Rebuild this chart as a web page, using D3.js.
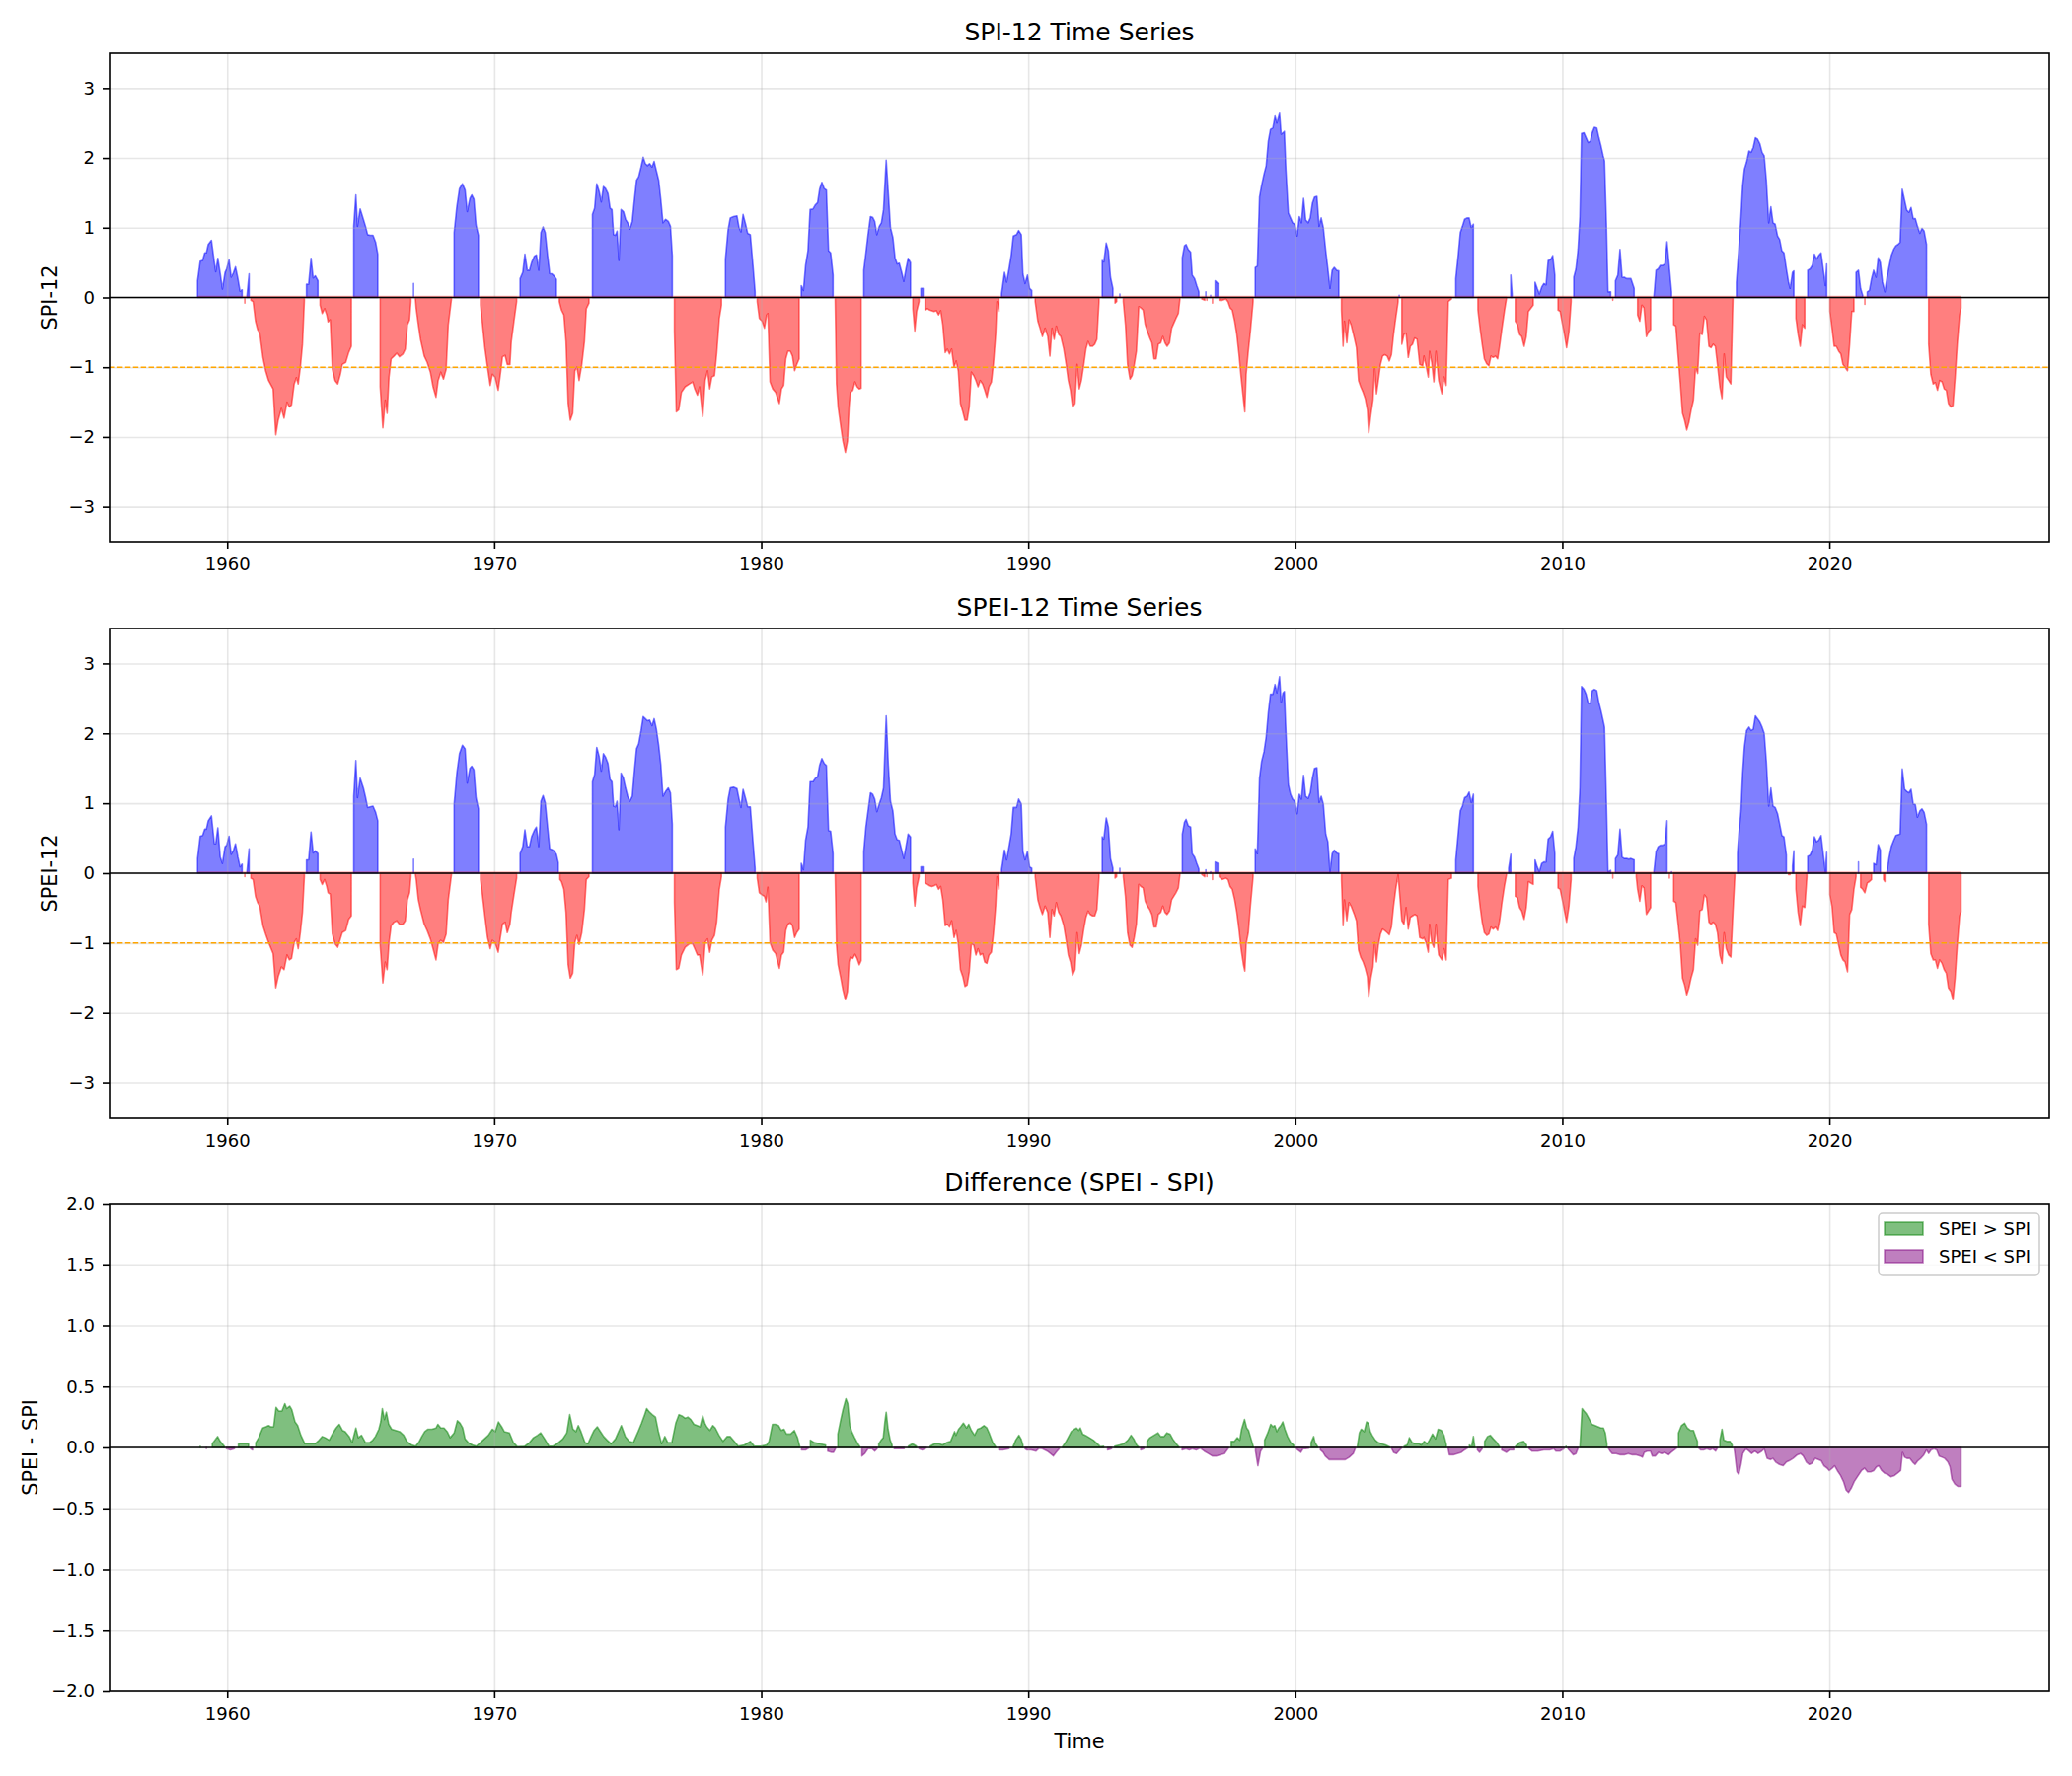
<!DOCTYPE html>
<html>
<head>
<meta charset="utf-8">
<script src="https://cdn.jsdelivr.net/npm/d3@7"></script>
<style>
  body { margin: 0; background: #fff; }
  svg { font-family: "DejaVu Sans", sans-serif; }
</style>
</head>
<body>
<svg id="chart" width="2100" height="1800"></svg>
<script>
// --- DATA (decimal year, index value) ---
const spiData = [
  [1958.89,0.24],[1958.99,0.52],[1959.08,0.53],[1959.16,0.64],[1959.22,0.64],[1959.29,0.76],[1959.41,0.82],[1959.52,0.50],
  [1959.57,0.37],[1959.65,0.56],[1959.74,0.34],[1959.82,0.12],[1959.92,0.36],[1959.98,0.41],[1960.07,0.54],[1960.15,0.29],
  [1960.23,0.35],[1960.31,0.44],[1960.40,0.27],[1960.48,0.09],[1960.56,0.11],[1960.66,-0.08],[1960.74,0.02],[1960.82,0.34],
  [1960.89,-0.04],[1960.97,-0.06],[1961.06,-0.34],[1961.14,-0.46],[1961.22,-0.51],[1961.34,-0.86],[1961.44,-1.05],[1961.55,-1.19],
  [1961.72,-1.31],[1961.82,-1.97],[1961.91,-1.76],[1962.03,-1.59],[1962.13,-1.73],[1962.24,-1.50],[1962.33,-1.57],[1962.41,-1.54],
  [1962.51,-1.24],[1962.59,-1.15],[1962.66,-1.24],[1962.74,-1.00],[1962.82,-0.67],[1962.89,-0.05],[1962.97,0.19],[1963.05,0.19],
  [1963.14,0.56],[1963.22,0.28],[1963.30,0.31],[1963.40,0.24],[1963.48,-0.11],[1963.56,-0.23],[1963.65,-0.16],[1963.73,-0.25],
  [1963.78,-0.35],[1963.86,-0.32],[1963.94,-1.03],[1964.04,-1.19],[1964.14,-1.24],[1964.24,-1.10],[1964.31,-0.96],[1964.44,-0.93],
  [1964.55,-0.79],[1964.65,-0.70],[1964.74,1.02],[1964.82,1.47],[1964.88,1.02],[1964.98,1.27],[1965.10,1.12],[1965.18,1.02],
  [1965.26,0.90],[1965.35,0.89],[1965.46,0.89],[1965.56,0.79],[1965.64,0.62],[1965.73,-1.28],[1965.83,-1.87],[1965.92,-1.47],
  [1965.99,-1.66],[1966.06,-1.14],[1966.14,-0.88],[1966.25,-0.84],[1966.35,-0.80],[1966.45,-0.85],[1966.58,-0.81],[1966.67,-0.74],
  [1966.75,-0.39],[1966.83,-0.32],[1966.88,-0.06],[1966.98,0.20],[1967.05,-0.02],[1967.08,-0.16],[1967.16,-0.39],[1967.24,-0.60],
  [1967.38,-0.84],[1967.49,-0.93],[1967.61,-1.07],[1967.71,-1.28],[1967.82,-1.43],[1967.90,-1.19],[1968.00,-1.07],[1968.10,-1.17],
  [1968.20,-1.03],[1968.28,-0.39],[1968.40,-0.02],[1968.50,0.93],[1968.60,1.30],[1968.70,1.56],[1968.81,1.63],[1968.91,1.54],
  [1968.99,1.23],[1969.09,1.42],[1969.16,1.47],[1969.24,1.41],[1969.32,1.04],[1969.41,0.89],[1969.49,-0.11],[1969.55,-0.34],
  [1969.65,-0.72],[1969.75,-1.00],[1969.85,-1.26],[1969.93,-1.10],[1970.03,-1.14],[1970.15,-1.33],[1970.23,-1.10],[1970.31,-0.85],
  [1970.41,-0.83],[1970.49,-0.96],[1970.59,-0.96],[1970.64,-0.63],[1970.74,-0.34],[1970.84,-0.06],[1970.97,0.27],[1971.07,0.36],
  [1971.15,0.62],[1971.24,0.39],[1971.32,0.39],[1971.40,0.50],[1971.50,0.59],[1971.58,0.61],[1971.67,0.39],[1971.75,0.93],
  [1971.83,1.01],[1971.91,0.93],[1972.00,0.60],[1972.08,0.34],[1972.16,0.34],[1972.24,0.31],[1972.33,0.26],[1972.44,-0.06],
  [1972.52,-0.18],[1972.61,-0.25],[1972.69,-0.63],[1972.77,-1.52],[1972.85,-1.76],[1972.94,-1.66],[1973.02,-1.05],[1973.10,-1.00],
  [1973.18,-1.19],[1973.28,-0.96],[1973.38,-0.63],[1973.45,-0.16],[1973.55,-0.08],[1973.68,1.19],[1973.76,1.28],[1973.84,1.63],
  [1973.93,1.52],[1974.01,1.37],[1974.09,1.59],[1974.17,1.56],[1974.26,1.49],[1974.34,1.28],[1974.41,1.26],[1974.47,0.90],
  [1974.54,0.89],[1974.60,0.95],[1974.67,0.53],[1974.75,1.26],[1974.84,1.23],[1974.92,1.12],[1975.00,1.07],[1975.08,0.98],
  [1975.17,1.09],[1975.25,1.40],[1975.33,1.68],[1975.41,1.73],[1975.50,1.87],[1975.58,2.01],[1975.66,1.92],[1975.74,1.89],
  [1975.82,1.92],[1975.91,1.87],[1975.99,1.95],[1976.07,1.82],[1976.16,1.68],[1976.24,1.40],[1976.32,1.07],[1976.42,1.12],
  [1976.52,1.09],[1976.60,1.02],[1976.67,0.60],[1976.75,-0.48],[1976.82,-1.64],[1976.91,-1.61],[1977.01,-1.36],[1977.15,-1.28],
  [1977.31,-1.24],[1977.43,-1.21],[1977.51,-1.31],[1977.61,-1.40],[1977.69,-1.28],[1977.81,-1.71],[1977.90,-1.19],[1977.99,-1.05],
  [1978.07,-1.31],[1978.15,-1.14],[1978.25,-1.12],[1978.33,-0.81],[1978.43,-0.30],[1978.51,-0.11],[1978.66,0.55],[1978.76,0.97],
  [1978.84,1.14],[1978.96,1.16],[1979.09,1.17],[1979.17,1.00],[1979.24,0.94],[1979.32,1.19],[1979.42,1.04],[1979.49,0.92],
  [1979.59,0.90],[1979.69,0.46],[1979.77,0.08],[1979.85,-0.06],[1979.93,-0.30],[1980.03,-0.34],[1980.12,-0.44],[1980.20,-0.25],
  [1980.25,-0.23],[1980.33,-1.21],[1980.43,-1.31],[1980.54,-1.36],[1980.68,-1.52],[1980.76,-1.31],[1980.84,-1.26],[1980.92,-0.88],
  [1981.00,-0.77],[1981.09,-0.77],[1981.17,-0.84],[1981.25,-1.05],[1981.33,-0.96],[1981.42,-0.88],[1981.50,0.17],[1981.58,0.10],
  [1981.66,0.46],[1981.75,0.67],[1981.83,1.26],[1981.94,1.27],[1982.03,1.33],[1982.11,1.36],[1982.19,1.56],[1982.27,1.65],
  [1982.36,1.56],[1982.44,1.54],[1982.52,0.67],[1982.60,0.64],[1982.69,0.32],[1982.77,-0.01],[1982.82,-1.24],[1982.88,-1.57],
  [1982.98,-1.85],[1983.06,-2.06],[1983.15,-2.22],[1983.23,-2.06],[1983.29,-1.57],[1983.34,-1.36],[1983.43,-1.33],[1983.51,-1.21],
  [1983.59,-1.28],[1983.67,-1.31],[1983.74,-1.30],[1983.84,0.39],[1983.92,0.64],[1984.00,0.90],[1984.09,1.16],[1984.17,1.15],
  [1984.25,1.09],[1984.33,0.90],[1984.42,1.02],[1984.50,1.07],[1984.58,1.26],[1984.68,1.97],[1984.76,1.49],[1984.84,1.00],
  [1984.93,0.86],[1985.01,0.57],[1985.09,0.48],[1985.17,0.49],[1985.26,0.36],[1985.34,0.23],[1985.42,0.41],[1985.50,0.56],
  [1985.59,0.50],[1985.68,-0.16],[1985.75,-0.48],[1985.82,-0.20],[1985.91,-0.06],[1985.98,0.13],[1986.06,0.13],[1986.14,-0.18],
  [1986.23,-0.16],[1986.31,-0.18],[1986.39,-0.19],[1986.47,-0.20],[1986.56,-0.19],[1986.64,-0.25],[1986.72,-0.19],[1986.80,-0.39],
  [1986.89,-0.79],[1986.97,-0.74],[1987.05,-0.81],[1987.13,-0.74],[1987.22,-1.00],[1987.30,-0.91],[1987.38,-1.05],[1987.46,-1.52],
  [1987.55,-1.64],[1987.63,-1.76],[1987.71,-1.76],[1987.79,-1.57],[1987.87,-1.07],[1987.96,-1.12],[1988.04,-1.19],[1988.12,-1.28],
  [1988.20,-1.19],[1988.29,-1.24],[1988.37,-1.33],[1988.45,-1.43],[1988.53,-1.28],[1988.62,-1.21],[1988.70,-0.93],[1988.78,-0.53],
  [1988.83,-0.06],[1988.90,-0.20],[1989.00,0.05],[1989.11,0.36],[1989.19,0.22],[1989.28,0.41],[1989.36,0.60],[1989.44,0.88],
  [1989.56,0.90],[1989.64,0.96],[1989.74,0.90],[1989.80,0.34],[1989.88,0.20],[1989.97,0.32],[1990.05,0.13],[1990.13,0.10],
  [1990.26,-0.06],[1990.36,-0.34],[1990.44,-0.44],[1990.53,-0.56],[1990.63,-0.44],[1990.73,-0.56],[1990.81,-0.84],[1990.89,-0.44],
  [1990.97,-0.60],[1991.05,-0.41],[1991.14,-0.53],[1991.22,-0.56],[1991.33,-0.74],[1991.42,-0.96],[1991.50,-1.19],[1991.58,-1.33],
  [1991.66,-1.57],[1991.75,-1.52],[1991.83,-0.96],[1991.91,-1.31],[1991.99,-1.19],[1992.08,-0.96],[1992.16,-0.74],[1992.24,-0.63],
  [1992.32,-0.70],[1992.41,-0.70],[1992.49,-0.67],[1992.57,-0.60],[1992.65,-0.06],[1992.77,0.53],[1992.83,0.51],[1992.92,0.78],
  [1993.00,0.67],[1993.08,0.29],[1993.17,0.13],[1993.25,-0.08],[1993.31,-0.06],[1993.43,0.05],[1993.56,-0.06],[1993.64,-0.39],
  [1993.72,-0.96],[1993.81,-1.17],[1993.89,-1.12],[1993.97,-0.96],[1994.05,-0.77],[1994.14,-0.13],[1994.22,-0.15],[1994.30,-0.18],
  [1994.38,-0.39],[1994.46,-0.48],[1994.55,-0.58],[1994.63,-0.65],[1994.71,-0.88],[1994.79,-0.88],[1994.87,-0.67],[1994.96,-0.65],
  [1995.04,-0.56],[1995.12,-0.65],[1995.20,-0.70],[1995.29,-0.65],[1995.37,-0.44],[1995.45,-0.37],[1995.53,-0.30],[1995.62,-0.23],
  [1995.68,-0.02],[1995.77,0.57],[1995.85,0.74],[1995.91,0.76],[1995.99,0.69],[1996.08,0.65],[1996.14,0.32],[1996.23,0.27],
  [1996.31,0.17],[1996.39,0.08],[1996.50,-0.02],[1996.61,-0.04],[1996.65,0.08],[1996.69,-0.04],[1996.83,0.03],[1996.90,-0.08],
  [1997.00,0.24],[1997.10,0.20],[1997.15,-0.04],[1997.27,-0.04],[1997.40,-0.02],[1997.48,-0.06],[1997.56,-0.15],[1997.64,-0.18],
  [1997.73,-0.34],[1997.81,-0.53],[1997.89,-0.81],[1997.97,-1.14],[1998.06,-1.47],[1998.11,-1.64],[1998.16,-1.10],[1998.24,-0.77],
  [1998.32,-0.48],[1998.42,-0.06],[1998.50,0.43],[1998.58,0.45],[1998.66,1.44],[1998.74,1.61],[1998.83,1.77],[1998.91,1.89],
  [1998.99,2.24],[1999.07,2.41],[1999.16,2.43],[1999.24,2.60],[1999.31,2.50],[1999.41,2.64],[1999.47,2.34],[1999.54,2.36],
  [1999.59,2.38],[1999.65,1.82],[1999.74,1.21],[1999.82,1.14],[1999.90,1.07],[1999.98,1.05],[2000.07,0.88],[2000.15,1.16],
  [2000.23,1.07],[2000.31,1.42],[2000.39,1.11],[2000.48,1.07],[2000.56,1.14],[2000.64,1.35],[2000.72,1.44],[2000.81,1.45],
  [2000.89,1.02],[2000.97,1.14],[2001.05,1.00],[2001.14,0.67],[2001.22,0.41],[2001.30,0.13],[2001.38,0.39],[2001.46,0.43],
  [2001.55,0.39],[2001.63,0.38],[2001.73,-0.18],[2001.79,-0.70],[2001.84,-0.34],[2001.93,-0.65],[2002.01,-0.32],[2002.09,-0.39],
  [2002.21,-0.58],[2002.29,-0.72],[2002.37,-1.19],[2002.45,-1.28],[2002.54,-1.36],[2002.62,-1.45],[2002.70,-1.61],[2002.75,-1.94],
  [2002.83,-1.68],[2002.91,-1.47],[2002.97,-1.00],[2003.04,-1.38],[2003.11,-1.19],[2003.19,-0.96],[2003.27,-0.84],[2003.35,-0.82],
  [2003.44,-0.84],[2003.52,-0.91],[2003.60,-0.82],[2003.68,-0.53],[2003.76,-0.30],[2003.85,-0.06],[2003.89,0.03],[2003.99,-0.67],
  [2004.07,-0.53],[2004.15,-0.51],[2004.23,-0.86],[2004.31,-0.70],[2004.39,-0.67],[2004.47,-0.58],[2004.56,-0.60],[2004.66,-0.96],
  [2004.77,-0.98],[2004.82,-0.84],[2004.91,-1.00],[2004.98,-1.14],[2005.03,-0.77],[2005.11,-0.93],[2005.19,-1.21],[2005.27,-0.77],
  [2005.32,-0.98],[2005.37,-1.19],[2005.49,-1.38],[2005.57,-1.14],[2005.65,-1.26],[2005.73,-0.06],[2005.85,-0.02],[2006.01,0.27],
  [2006.10,0.60],[2006.18,0.93],[2006.26,1.02],[2006.34,1.12],[2006.43,1.14],[2006.51,1.14],[2006.59,1.00],[2006.67,1.05],
  [2006.84,-0.18],[2006.92,-0.44],[2007.00,-0.67],[2007.08,-0.88],[2007.17,-0.95],[2007.25,-0.98],[2007.33,-0.84],[2007.41,-0.86],
  [2007.50,-0.84],[2007.58,-0.88],[2007.66,-0.67],[2007.74,-0.44],[2007.83,-0.20],[2007.91,-0.01],[2008.07,0.32],[2008.12,0.05],
  [2008.24,-0.34],[2008.32,-0.39],[2008.40,-0.53],[2008.48,-0.56],[2008.57,-0.70],[2008.65,-0.56],[2008.73,-0.20],[2008.91,-0.11],
  [2008.98,0.22],[2009.06,0.13],[2009.14,0.05],[2009.23,0.15],[2009.31,0.20],[2009.39,0.18],[2009.47,0.53],[2009.56,0.54],
  [2009.64,0.60],[2009.72,0.32],[2009.84,-0.18],[2009.92,-0.20],[2010.00,-0.37],[2010.08,-0.53],[2010.16,-0.72],[2010.25,-0.49],
  [2010.33,-0.06],[2010.43,0.29],[2010.51,0.41],[2010.59,0.69],[2010.66,1.16],[2010.72,2.35],[2010.81,2.36],[2010.89,2.29],
  [2010.97,2.22],[2011.05,2.24],[2011.12,2.36],[2011.20,2.44],[2011.29,2.43],[2011.37,2.29],[2011.45,2.17],[2011.53,2.03],
  [2011.58,1.96],[2011.65,1.07],[2011.71,0.08],[2011.81,0.08],[2011.89,-0.04],[2011.99,0.24],[2012.08,0.32],[2012.16,0.69],
  [2012.24,0.29],[2012.32,0.29],[2012.41,0.27],[2012.49,0.27],[2012.57,0.27],[2012.69,0.13],[2012.82,-0.25],[2012.90,-0.34],
  [2012.98,-0.11],[2013.06,-0.15],[2013.15,-0.56],[2013.23,-0.49],[2013.31,-0.46],[2013.43,0.01],[2013.51,0.39],[2013.59,0.41],
  [2013.67,0.46],[2013.76,0.46],[2013.84,0.48],[2013.92,0.80],[2014.09,0.08],[2014.17,-0.39],[2014.25,-0.41],[2014.33,-0.81],
  [2014.42,-1.24],[2014.50,-1.66],[2014.58,-1.76],[2014.66,-1.90],[2014.74,-1.79],[2014.82,-1.62],[2014.91,-1.47],[2014.99,-1.00],
  [2015.07,-1.09],[2015.15,-0.51],[2015.24,-0.53],[2015.32,-0.27],[2015.40,-0.32],[2015.49,-0.70],[2015.57,-0.72],[2015.65,-0.67],
  [2015.73,-0.70],[2015.81,-0.96],[2015.90,-1.28],[2015.98,-1.45],[2016.06,-0.81],[2016.14,-1.14],[2016.23,-1.19],[2016.31,-1.24],
  [2016.39,-0.02],[2016.52,0.22],[2016.61,0.69],[2016.69,1.16],[2016.75,1.59],[2016.82,1.84],[2016.90,1.94],[2016.99,2.10],
  [2017.07,2.08],[2017.15,2.15],[2017.23,2.29],[2017.31,2.27],[2017.40,2.20],[2017.48,2.08],[2017.56,2.03],[2017.64,1.68],
  [2017.73,1.07],[2017.81,1.30],[2017.89,1.07],[2017.97,1.05],[2018.06,0.88],[2018.14,0.83],[2018.22,0.67],[2018.30,0.64],
  [2018.39,0.41],[2018.47,0.22],[2018.53,0.13],[2018.62,0.36],[2018.67,0.38],[2018.75,-0.30],[2018.83,-0.53],[2018.91,-0.70],
  [2018.99,-0.39],[2019.08,-0.44],[2019.19,0.39],[2019.28,0.41],[2019.36,0.46],[2019.44,0.62],[2019.52,0.55],[2019.60,0.60],
  [2019.69,0.64],[2019.77,0.41],[2019.85,0.17],[2019.90,0.48],[2020.02,-0.20],[2020.10,-0.44],[2020.18,-0.70],[2020.26,-0.70],
  [2020.35,-0.77],[2020.43,-0.81],[2020.51,-0.96],[2020.59,-1.00],[2020.68,-1.05],[2020.76,-0.67],[2020.84,-0.20],[2020.92,-0.20],
  [2021.00,0.36],[2021.09,0.39],[2021.17,0.13],[2021.25,0.03],[2021.33,-0.10],[2021.42,0.08],[2021.50,0.10],[2021.58,0.27],
  [2021.66,0.39],[2021.75,0.29],[2021.83,0.57],[2021.91,0.50],[2021.99,0.22],[2022.08,0.08],[2022.16,0.29],[2022.24,0.45],
  [2022.32,0.60],[2022.41,0.69],[2022.49,0.74],[2022.57,0.76],[2022.65,0.79],[2022.73,1.55],[2022.82,1.39],[2022.90,1.25],
  [2022.98,1.22],[2023.06,1.29],[2023.14,1.13],[2023.22,1.13],[2023.30,1.02],[2023.39,0.92],[2023.47,0.99],[2023.55,0.95],
  [2023.64,0.76],[2023.72,-0.67],[2023.80,-1.10],[2023.89,-1.24],[2023.97,-1.22],[2024.05,-1.33],[2024.13,-1.19],[2024.22,-1.21],
  [2024.30,-1.31],[2024.38,-1.33],[2024.46,-1.52],[2024.55,-1.57],[2024.63,-1.55],[2024.71,-1.15],[2024.79,-0.67],[2024.88,-0.25],
  [2024.93,-0.15]
];

const speiData = [
  [1958.89,0.21],[1958.99,0.53],[1959.08,0.54],[1959.16,0.63],[1959.22,0.63],[1959.29,0.75],[1959.41,0.82],[1959.52,0.42],
  [1959.57,0.42],[1959.65,0.65],[1959.74,0.23],[1959.82,0.14],[1959.92,0.38],[1959.98,0.40],[1960.07,0.53],[1960.15,0.27],
  [1960.23,0.32],[1960.31,0.42],[1960.40,0.23],[1960.48,0.09],[1960.56,0.13],[1960.66,-0.05],[1960.74,0.02],[1960.82,0.35],
  [1960.89,-0.07],[1960.97,-0.09],[1961.06,-0.33],[1961.14,-0.42],[1961.22,-0.47],[1961.34,-0.75],[1961.44,-0.87],[1961.55,-0.99],
  [1961.72,-1.15],[1961.82,-1.64],[1961.91,-1.48],[1962.03,-1.34],[1962.13,-1.38],[1962.24,-1.17],[1962.33,-1.24],[1962.41,-1.22],
  [1962.51,-0.99],[1962.59,-0.94],[1962.66,-1.08],[1962.74,-0.85],[1962.82,-0.56],[1962.89,-0.05],[1962.97,0.19],[1963.05,0.19],
  [1963.14,0.59],[1963.22,0.29],[1963.30,0.32],[1963.40,0.28],[1963.48,-0.09],[1963.56,-0.16],[1963.65,-0.09],[1963.73,-0.19],
  [1963.78,-0.28],[1963.86,-0.30],[1963.94,-0.87],[1964.04,-1.01],[1964.14,-1.06],[1964.24,-0.94],[1964.31,-0.85],[1964.44,-0.82],
  [1964.55,-0.66],[1964.65,-0.61],[1964.74,1.10],[1964.82,1.61],[1964.88,1.08],[1964.98,1.36],[1965.10,1.22],[1965.18,1.09],
  [1965.26,0.94],[1965.35,0.95],[1965.46,0.96],[1965.56,0.87],[1965.64,0.75],[1965.73,-1.03],[1965.83,-1.57],[1965.92,-1.27],
  [1965.99,-1.38],[1966.06,-0.99],[1966.14,-0.75],[1966.25,-0.70],[1966.35,-0.68],[1966.45,-0.73],[1966.58,-0.73],[1966.67,-0.68],
  [1966.75,-0.38],[1966.83,-0.28],[1966.88,-0.05],[1966.98,0.20],[1967.05,-0.02],[1967.08,-0.09],[1967.16,-0.38],[1967.24,-0.52],
  [1967.38,-0.73],[1967.49,-0.82],[1967.61,-0.94],[1967.71,-1.08],[1967.82,-1.24],[1967.90,-1.01],[1968.00,-0.96],[1968.10,-0.99],
  [1968.20,-0.87],[1968.28,-0.38],[1968.40,-0.02],[1968.50,0.99],[1968.60,1.43],[1968.70,1.71],[1968.81,1.83],[1968.91,1.78],
  [1968.99,1.29],[1969.09,1.50],[1969.16,1.53],[1969.24,1.48],[1969.32,1.08],[1969.41,0.92],[1969.49,-0.09],[1969.55,-0.28],
  [1969.65,-0.61],[1969.75,-0.92],[1969.85,-1.08],[1969.93,-0.96],[1970.03,-0.99],[1970.15,-1.13],[1970.23,-0.92],[1970.31,-0.73],
  [1970.41,-0.70],[1970.49,-0.85],[1970.59,-0.73],[1970.64,-0.56],[1970.74,-0.31],[1970.84,-0.07],[1970.97,0.28],[1971.07,0.38],
  [1971.15,0.62],[1971.24,0.38],[1971.32,0.38],[1971.40,0.52],[1971.50,0.61],[1971.58,0.66],[1971.67,0.38],[1971.75,1.03],
  [1971.83,1.11],[1971.91,1.01],[1972.00,0.66],[1972.08,0.35],[1972.16,0.34],[1972.24,0.32],[1972.33,0.27],[1972.40,0.15],
  [1972.46,-0.09],[1972.52,-0.12],[1972.61,-0.23],[1972.69,-0.56],[1972.77,-1.31],[1972.85,-1.50],[1972.94,-1.43],[1973.02,-0.99],
  [1973.10,-0.89],[1973.18,-1.02],[1973.28,-0.85],[1973.38,-0.52],[1973.45,-0.09],[1973.55,-0.05],[1973.68,1.31],[1973.76,1.41],
  [1973.84,1.80],[1973.93,1.67],[1974.01,1.46],[1974.09,1.71],[1974.17,1.66],[1974.26,1.57],[1974.34,1.34],[1974.41,1.31],
  [1974.47,0.96],[1974.54,0.95],[1974.60,1.03],[1974.67,0.62],[1974.75,1.43],[1974.84,1.36],[1974.92,1.22],[1975.00,1.10],
  [1975.08,1.03],[1975.17,1.10],[1975.25,1.46],[1975.33,1.78],[1975.41,1.85],[1975.50,2.04],[1975.58,2.24],[1975.66,2.21],
  [1975.74,2.18],[1975.82,2.19],[1975.91,2.11],[1975.99,2.21],[1976.07,2.07],[1976.16,1.83],[1976.24,1.55],[1976.32,1.10],
  [1976.42,1.17],[1976.52,1.22],[1976.60,1.15],[1976.67,0.70],[1976.75,-0.42],[1976.82,-1.38],[1976.91,-1.36],[1977.01,-1.17],
  [1977.15,-1.06],[1977.31,-1.01],[1977.43,-1.01],[1977.51,-1.08],[1977.61,-1.17],[1977.69,-1.17],[1977.81,-1.46],[1977.90,-0.99],
  [1977.99,-0.94],[1978.07,-1.13],[1978.15,-0.96],[1978.25,-0.89],[1978.33,-0.70],[1978.43,-0.23],[1978.51,-0.05],[1978.66,0.66],
  [1978.76,1.06],[1978.84,1.22],[1978.96,1.23],[1979.09,1.21],[1979.17,1.06],[1979.24,0.94],[1979.32,1.20],[1979.42,1.06],
  [1979.49,0.95],[1979.59,0.95],[1979.69,0.45],[1979.77,0.07],[1979.85,-0.07],[1979.93,-0.28],[1980.03,-0.31],[1980.12,-0.33],
  [1980.18,-0.41],[1980.25,-0.20],[1980.33,-0.99],[1980.43,-1.10],[1980.54,-1.15],[1980.68,-1.36],[1980.76,-1.17],[1980.84,-1.13],
  [1980.92,-0.82],[1981.00,-0.73],[1981.09,-0.71],[1981.17,-0.75],[1981.25,-0.92],[1981.33,-0.85],[1981.42,-0.80],[1981.50,0.14],
  [1981.58,0.05],[1981.66,0.47],[1981.75,0.66],[1981.83,1.31],[1981.94,1.31],[1982.03,1.36],[1982.11,1.38],[1982.19,1.55],
  [1982.27,1.64],[1982.36,1.57],[1982.44,1.54],[1982.52,0.61],[1982.60,0.60],[1982.69,0.28],[1982.77,-0.02],[1982.82,-1.03],
  [1982.88,-1.31],[1982.98,-1.50],[1983.06,-1.67],[1983.15,-1.81],[1983.23,-1.69],[1983.29,-1.27],[1983.34,-1.20],[1983.43,-1.22],
  [1983.51,-1.16],[1983.59,-1.22],[1983.67,-1.31],[1983.74,-1.25],[1983.84,0.31],[1983.92,0.66],[1984.00,0.89],[1984.09,1.15],
  [1984.17,1.13],[1984.25,1.06],[1984.33,0.88],[1984.42,0.99],[1984.50,1.08],[1984.58,1.22],[1984.68,2.25],[1984.76,1.55],
  [1984.84,1.03],[1984.93,0.89],[1985.01,0.56],[1985.09,0.48],[1985.17,0.47],[1985.26,0.33],[1985.34,0.21],[1985.42,0.38],
  [1985.50,0.56],[1985.59,0.52],[1985.68,-0.14],[1985.75,-0.47],[1985.82,-0.21],[1985.91,-0.05],[1985.98,0.09],[1986.06,0.09],
  [1986.14,-0.14],[1986.23,-0.16],[1986.31,-0.18],[1986.39,-0.19],[1986.47,-0.18],[1986.56,-0.16],[1986.64,-0.23],[1986.72,-0.19],
  [1986.80,-0.38],[1986.89,-0.75],[1986.97,-0.73],[1987.05,-0.77],[1987.13,-0.68],[1987.22,-0.92],[1987.30,-0.82],[1987.38,-1.01],
  [1987.46,-1.38],[1987.55,-1.48],[1987.63,-1.62],[1987.71,-1.60],[1987.79,-1.41],[1987.87,-1.01],[1987.96,-1.03],[1988.04,-1.17],
  [1988.12,-1.08],[1988.20,-1.17],[1988.29,-1.15],[1988.37,-1.27],[1988.45,-1.29],[1988.53,-1.17],[1988.62,-1.13],[1988.70,-0.85],
  [1988.78,-0.47],[1988.83,-0.05],[1988.90,-0.23],[1989.00,0.05],[1989.11,0.33],[1989.19,0.19],[1989.28,0.38],[1989.36,0.56],
  [1989.44,0.94],[1989.56,0.94],[1989.64,1.06],[1989.74,0.99],[1989.80,0.31],[1989.88,0.19],[1989.97,0.31],[1990.05,0.09],
  [1990.13,0.07],[1990.26,-0.05],[1990.36,-0.38],[1990.44,-0.49],[1990.53,-0.59],[1990.63,-0.47],[1990.73,-0.56],[1990.81,-0.92],
  [1990.89,-0.52],[1990.97,-0.61],[1991.05,-0.42],[1991.14,-0.56],[1991.22,-0.61],[1991.33,-0.75],[1991.42,-0.96],[1991.50,-1.17],
  [1991.58,-1.27],[1991.66,-1.46],[1991.75,-1.38],[1991.83,-0.85],[1991.91,-1.15],[1991.99,-1.03],[1992.08,-0.80],[1992.16,-0.63],
  [1992.24,-0.54],[1992.32,-0.59],[1992.41,-0.61],[1992.49,-0.61],[1992.57,-0.52],[1992.65,-0.05],[1992.77,0.52],[1992.83,0.49],
  [1992.92,0.79],[1993.00,0.66],[1993.08,0.21],[1993.17,0.07],[1993.25,-0.07],[1993.31,-0.05],[1993.43,0.07],[1993.56,-0.05],
  [1993.64,-0.33],[1993.72,-0.85],[1993.81,-1.03],[1993.89,-1.06],[1993.97,-0.92],[1994.05,-0.73],[1994.14,-0.16],[1994.22,-0.19],
  [1994.30,-0.21],[1994.38,-0.40],[1994.46,-0.47],[1994.55,-0.52],[1994.63,-0.59],[1994.71,-0.77],[1994.79,-0.77],[1994.87,-0.59],
  [1994.96,-0.56],[1995.04,-0.47],[1995.12,-0.56],[1995.20,-0.59],[1995.29,-0.54],[1995.37,-0.38],[1995.45,-0.33],[1995.53,-0.28],
  [1995.62,-0.21],[1995.68,-0.02],[1995.77,0.56],[1995.85,0.73],[1995.91,0.77],[1995.99,0.68],[1996.08,0.66],[1996.14,0.28],
  [1996.23,0.23],[1996.31,0.14],[1996.39,0.06],[1996.50,-0.02],[1996.61,-0.05],[1996.65,0.05],[1996.69,-0.05],[1996.83,0.02],
  [1996.90,-0.09],[1997.00,0.16],[1997.10,0.14],[1997.15,-0.05],[1997.27,-0.09],[1997.40,-0.07],[1997.48,-0.09],[1997.56,-0.19],
  [1997.64,-0.23],[1997.73,-0.38],[1997.81,-0.56],[1997.89,-0.80],[1997.97,-1.08],[1998.06,-1.31],[1998.11,-1.40],[1998.16,-1.01],
  [1998.24,-0.85],[1998.32,-0.47],[1998.42,-0.05],[1998.50,0.35],[1998.58,0.28],[1998.66,1.36],[1998.74,1.60],[1998.83,1.74],
  [1998.91,1.95],[1998.99,2.30],[1999.07,2.56],[1999.16,2.56],[1999.24,2.70],[1999.31,2.58],[1999.41,2.81],[1999.47,2.44],
  [1999.54,2.58],[1999.59,2.60],[1999.65,2.02],[1999.74,1.27],[1999.82,1.13],[1999.90,1.06],[1999.98,1.03],[2000.07,0.85],
  [2000.15,1.13],[2000.23,1.06],[2000.31,1.40],[2000.39,1.10],[2000.48,1.07],[2000.56,1.15],[2000.64,1.36],[2000.72,1.50],
  [2000.81,1.51],[2000.89,1.01],[2000.97,1.10],[2001.05,0.99],[2001.14,0.56],[2001.22,0.45],[2001.30,0.02],[2001.38,0.28],
  [2001.46,0.33],[2001.55,0.29],[2001.63,0.28],[2001.73,-0.09],[2001.79,-0.75],[2001.84,-0.38],[2001.93,-0.68],[2002.01,-0.42],
  [2002.09,-0.47],[2002.21,-0.59],[2002.29,-0.68],[2002.37,-1.10],[2002.45,-1.20],[2002.54,-1.27],[2002.62,-1.36],[2002.70,-1.48],
  [2002.75,-1.76],[2002.83,-1.50],[2002.91,-1.34],[2002.97,-0.99],[2003.04,-1.27],[2003.11,-1.03],[2003.19,-0.87],[2003.27,-0.80],
  [2003.35,-0.82],[2003.44,-0.85],[2003.52,-0.88],[2003.60,-0.77],[2003.68,-0.47],[2003.76,-0.23],[2003.85,-0.02],[2003.99,-0.68],
  [2004.07,-0.73],[2004.15,-0.49],[2004.23,-0.80],[2004.31,-0.63],[2004.39,-0.61],[2004.47,-0.59],[2004.56,-0.61],[2004.66,-0.92],
  [2004.77,-0.94],[2004.82,-0.92],[2004.91,-1.01],[2004.98,-1.13],[2005.03,-0.73],[2005.11,-0.99],[2005.19,-1.06],[2005.27,-0.73],
  [2005.32,-0.99],[2005.37,-1.17],[2005.49,-1.24],[2005.57,-1.08],[2005.65,-1.24],[2005.73,-0.09],[2005.85,-0.07],[2006.01,0.19],
  [2006.10,0.56],[2006.18,0.89],[2006.26,0.96],[2006.34,1.08],[2006.43,1.10],[2006.51,1.16],[2006.59,1.01],[2006.67,1.13],
  [2006.84,-0.19],[2006.92,-0.47],[2007.00,-0.70],[2007.08,-0.85],[2007.17,-0.89],[2007.25,-0.87],[2007.33,-0.77],[2007.41,-0.80],
  [2007.50,-0.77],[2007.58,-0.82],[2007.66,-0.66],[2007.74,-0.42],[2007.83,-0.19],[2007.91,-0.02],[2007.99,0.07],[2008.07,0.27],
  [2008.24,-0.33],[2008.32,-0.35],[2008.40,-0.49],[2008.48,-0.54],[2008.57,-0.66],[2008.65,-0.49],[2008.73,-0.12],[2008.91,-0.16],
  [2008.98,0.19],[2009.06,0.09],[2009.14,0.02],[2009.23,0.14],[2009.31,0.16],[2009.39,0.16],[2009.47,0.49],[2009.56,0.52],
  [2009.64,0.60],[2009.72,0.28],[2009.84,-0.21],[2009.92,-0.23],[2010.00,-0.38],[2010.08,-0.54],[2010.16,-0.70],[2010.25,-0.47],
  [2010.33,-0.09],[2010.43,0.21],[2010.51,0.38],[2010.59,0.66],[2010.66,1.22],[2010.72,2.67],[2010.81,2.63],[2010.89,2.56],
  [2010.97,2.43],[2011.05,2.43],[2011.12,2.61],[2011.20,2.63],[2011.29,2.61],[2011.37,2.44],[2011.45,2.32],[2011.53,2.18],
  [2011.58,2.09],[2011.65,1.03],[2011.71,0.02],[2011.81,0.04],[2011.89,-0.07],[2011.99,0.21],[2012.08,0.26],[2012.16,0.63],
  [2012.24,0.23],[2012.32,0.21],[2012.41,0.21],[2012.49,0.20],[2012.57,0.21],[2012.69,0.19],[2012.77,-0.05],[2012.82,-0.23],
  [2012.90,-0.40],[2012.98,-0.18],[2013.06,-0.21],[2013.15,-0.59],[2013.23,-0.54],[2013.31,-0.49],[2013.43,0.02],[2013.51,0.31],
  [2013.59,0.38],[2013.67,0.40],[2013.76,0.40],[2013.84,0.42],[2013.92,0.75],[2014.01,-0.07],[2014.09,0.02],[2014.17,-0.40],
  [2014.25,-0.42],[2014.33,-0.70],[2014.42,-1.03],[2014.50,-1.50],[2014.58,-1.60],[2014.66,-1.74],[2014.74,-1.64],[2014.82,-1.50],
  [2014.91,-1.38],[2014.99,-0.94],[2015.07,-1.03],[2015.15,-0.54],[2015.24,-0.52],[2015.32,-0.31],[2015.40,-0.35],[2015.49,-0.70],
  [2015.57,-0.73],[2015.65,-0.70],[2015.73,-0.73],[2015.81,-0.85],[2015.90,-1.17],[2015.98,-1.29],[2016.06,-0.85],[2016.14,-1.08],
  [2016.23,-1.17],[2016.31,-1.20],[2016.39,-0.56],[2016.46,-0.05],[2016.56,0.28],[2016.61,0.55],[2016.69,0.89],[2016.75,1.41],
  [2016.82,1.81],[2016.90,2.04],[2016.99,2.09],[2017.07,2.04],[2017.15,2.06],[2017.23,2.25],[2017.31,2.21],[2017.40,2.16],
  [2017.48,2.09],[2017.56,2.00],[2017.64,1.60],[2017.73,0.96],[2017.81,1.22],[2017.89,0.96],[2017.97,0.94],[2018.06,0.85],
  [2018.14,0.70],[2018.22,0.54],[2018.30,0.52],[2018.39,0.26],[2018.47,-0.02],[2018.53,-0.02],[2018.62,0.10],[2018.67,0.32],
  [2018.75,-0.23],[2018.83,-0.56],[2018.91,-0.75],[2018.99,-0.47],[2019.08,-0.49],[2019.16,-0.05],[2019.19,0.24],[2019.28,0.26],
  [2019.36,0.33],[2019.44,0.52],[2019.52,0.45],[2019.60,0.47],[2019.69,0.54],[2019.77,0.28],[2019.85,0.02],[2019.90,0.30],
  [2020.02,-0.31],[2020.10,-0.47],[2020.18,-0.85],[2020.26,-0.87],[2020.35,-1.03],[2020.43,-1.17],[2020.51,-1.24],[2020.59,-1.27],
  [2020.68,-1.41],[2020.76,-0.59],[2020.84,-0.52],[2020.92,-0.23],[2021.00,-0.05],[2021.09,0.16],[2021.17,-0.20],[2021.25,-0.23],
  [2021.33,-0.28],[2021.42,-0.14],[2021.50,-0.12],[2021.58,-0.09],[2021.66,0.14],[2021.75,0.12],[2021.83,0.41],[2021.91,0.33],
  [2022.03,-0.09],[2022.08,-0.12],[2022.16,0.02],[2022.24,0.23],[2022.32,0.38],[2022.41,0.47],[2022.49,0.54],[2022.57,0.55],
  [2022.65,0.56],[2022.73,1.49],[2022.82,1.20],[2022.90,1.17],[2022.98,1.15],[2023.06,1.20],[2023.14,0.99],[2023.22,0.98],
  [2023.30,0.80],[2023.39,0.89],[2023.47,0.92],[2023.55,0.87],[2023.64,0.70],[2023.72,-0.73],[2023.80,-1.15],[2023.89,-1.24],
  [2023.97,-1.24],[2024.05,-1.36],[2024.13,-1.24],[2024.22,-1.29],[2024.30,-1.38],[2024.38,-1.43],[2024.46,-1.64],[2024.55,-1.69],
  [2024.63,-1.81],[2024.71,-1.50],[2024.79,-1.03],[2024.88,-0.61],[2024.93,-0.55]
];

const diffData = [
  [1958.99,0.01],[1959.22,-0.01],[1959.44,0.03],[1959.64,0.09],[1959.74,0.05],[1959.89,0.01],[1959.97,-0.01],[1960.12,-0.02],
  [1960.27,-0.01],[1960.42,0.03],[1960.57,0.03],[1960.80,0.03],[1960.88,-0.01],[1960.95,-0.02],[1961.07,0.04],[1961.18,0.08],
  [1961.33,0.16],[1961.45,0.17],[1961.55,0.18],[1961.63,0.17],[1961.74,0.17],[1961.83,0.33],[1961.93,0.30],[1962.05,0.30],
  [1962.16,0.36],[1962.23,0.32],[1962.34,0.34],[1962.42,0.31],[1962.54,0.21],[1962.64,0.18],[1962.76,0.10],[1962.91,0.03],
  [1963.06,0.03],[1963.29,0.03],[1963.44,0.06],[1963.56,0.09],[1963.67,0.08],[1963.82,0.06],[1963.94,0.11],[1964.08,0.16],
  [1964.20,0.19],[1964.32,0.14],[1964.42,0.13],[1964.57,0.09],[1964.68,0.04],[1964.82,0.16],[1964.91,0.08],[1965.03,0.10],
  [1965.18,0.04],[1965.33,0.04],[1965.45,0.06],[1965.55,0.09],[1965.68,0.15],[1965.75,0.21],[1965.81,0.32],[1965.89,0.23],
  [1965.96,0.29],[1966.05,0.19],[1966.16,0.15],[1966.31,0.14],[1966.46,0.13],[1966.61,0.10],[1966.73,0.05],[1966.91,0.02],
  [1967.06,0.01],[1967.17,0.04],[1967.29,0.09],[1967.40,0.13],[1967.52,0.15],[1967.67,0.15],[1967.82,0.16],[1967.89,0.19],
  [1968.00,0.16],[1968.12,0.16],[1968.24,0.13],[1968.35,0.08],[1968.50,0.12],[1968.62,0.22],[1968.72,0.20],[1968.82,0.16],
  [1968.91,0.07],[1969.03,0.04],[1969.18,0.02],[1969.33,0.01],[1969.48,0.04],[1969.63,0.07],[1969.78,0.10],[1969.93,0.15],
  [1970.04,0.13],[1970.16,0.21],[1970.28,0.17],[1970.38,0.13],[1970.57,0.12],[1970.72,0.04],[1970.87,0.005],[1971.14,0.01],
  [1971.32,0.04],[1971.47,0.08],[1971.62,0.10],[1971.74,0.12],[1971.89,0.07],[1972.05,0.01],[1972.20,0.01],[1972.35,0.03],
  [1972.57,0.07],[1972.72,0.12],[1972.83,0.27],[1972.95,0.15],[1973.06,0.13],[1973.15,0.18],[1973.25,0.13],[1973.40,0.04],
  [1973.51,0.03],[1973.63,0.09],[1973.74,0.14],[1973.86,0.17],[1973.98,0.13],[1974.10,0.09],[1974.23,0.06],[1974.38,0.03],
  [1974.54,0.07],[1974.64,0.12],[1974.76,0.18],[1974.91,0.09],[1975.06,0.05],[1975.21,0.04],[1975.37,0.12],[1975.52,0.20],
  [1975.62,0.26],[1975.71,0.32],[1975.82,0.29],[1975.92,0.27],[1976.04,0.25],[1976.15,0.13],[1976.27,0.03],[1976.39,0.09],
  [1976.50,0.04],[1976.65,0.04],[1976.80,0.20],[1976.92,0.27],[1977.03,0.26],[1977.15,0.24],[1977.25,0.25],[1977.36,0.23],
  [1977.48,0.19],[1977.60,0.18],[1977.71,0.17],[1977.81,0.26],[1977.89,0.20],[1977.96,0.17],[1978.08,0.14],[1978.19,0.18],
  [1978.28,0.16],[1978.42,0.10],[1978.57,0.05],[1978.72,0.09],[1978.84,0.09],[1978.99,0.05],[1979.14,0.01],[1979.37,0.02],
  [1979.59,0.05],[1979.74,0.01],[1979.97,0.01],[1980.20,0.02],[1980.29,0.05],[1980.42,0.19],[1980.53,0.19],[1980.65,0.18],
  [1980.75,0.14],[1980.85,0.15],[1980.95,0.11],[1981.10,0.11],[1981.24,0.14],[1981.36,0.08],[1981.44,0.01],[1981.51,-0.02],
  [1981.66,-0.02],[1981.78,-0.005],[1981.84,0.06],[1981.99,0.04],[1982.19,0.03],[1982.41,0.02],[1982.49,-0.03],[1982.64,-0.04],
  [1982.71,-0.04],[1982.79,-0.005],[1982.87,0.11],[1982.97,0.22],[1983.06,0.31],[1983.17,0.40],[1983.24,0.36],[1983.32,0.18],
  [1983.39,0.13],[1983.50,0.08],[1983.62,0.03],[1983.70,0.005],[1983.77,-0.07],[1983.88,-0.05],[1984.00,-0.01],[1984.15,-0.01],
  [1984.25,-0.03],[1984.34,-0.01],[1984.40,0.03],[1984.49,0.06],[1984.57,0.08],[1984.63,0.21],[1984.68,0.29],[1984.75,0.15],
  [1984.83,0.06],[1984.90,0.02],[1984.98,-0.01],[1985.20,-0.01],[1985.35,-0.01],[1985.51,0.01],[1985.66,0.03],[1985.81,0.01],
  [1985.91,-0.01],[1986.03,-0.02],[1986.18,-0.005],[1986.33,0.01],[1986.49,0.03],[1986.67,0.03],[1986.79,0.02],[1986.94,0.04],
  [1987.09,0.05],[1987.24,0.13],[1987.29,0.10],[1987.39,0.15],[1987.47,0.17],[1987.57,0.20],[1987.69,0.16],[1987.77,0.19],
  [1987.87,0.14],[1987.99,0.10],[1988.10,0.15],[1988.22,0.16],[1988.34,0.18],[1988.45,0.16],[1988.55,0.11],[1988.67,0.04],
  [1988.78,0.005],[1988.90,-0.02],[1989.05,-0.02],[1989.28,-0.01],[1989.43,0.005],[1989.53,0.06],[1989.65,0.10],[1989.73,0.07],
  [1989.80,0.02],[1989.88,-0.01],[1989.95,-0.02],[1990.11,-0.02],[1990.29,-0.03],[1990.41,-0.005],[1990.53,-0.01],[1990.71,-0.03],
  [1990.83,-0.05],[1990.94,-0.07],[1991.04,-0.04],[1991.16,-0.01],[1991.28,0.005],[1991.39,0.04],[1991.49,0.08],[1991.61,0.13],
  [1991.73,0.15],[1991.81,0.16],[1991.89,0.14],[1991.95,0.16],[1992.04,0.11],[1992.14,0.10],[1992.29,0.08],[1992.44,0.06],
  [1992.59,0.03],[1992.70,0.005],[1992.82,0.01],[1992.97,-0.02],[1993.12,-0.01],[1993.24,0.01],[1993.42,0.02],[1993.57,0.03],
  [1993.73,0.06],[1993.85,0.10],[1993.95,0.07],[1994.06,0.02],[1994.13,0.005],[1994.21,-0.02],[1994.33,-0.01],[1994.45,0.05],
  [1994.56,0.08],[1994.71,0.10],[1994.86,0.12],[1994.96,0.09],[1995.08,0.09],[1995.19,0.12],[1995.31,0.11],[1995.41,0.07],
  [1995.54,0.03],[1995.64,0.005],[1995.76,-0.02],[1995.91,-0.01],[1996.03,-0.02],[1996.14,-0.01],[1996.29,-0.02],[1996.44,-0.005],
  [1996.59,-0.03],[1996.74,-0.05],[1996.89,-0.07],[1997.04,-0.07],[1997.19,-0.06],[1997.35,-0.05],[1997.50,-0.005],[1997.60,0.05],
  [1997.72,0.05],[1997.83,0.08],[1997.92,0.06],[1997.99,0.15],[1998.10,0.23],[1998.18,0.16],[1998.25,0.14],[1998.33,0.08],
  [1998.43,0.005],[1998.51,-0.03],[1998.60,-0.15],[1998.70,-0.03],[1998.78,-0.005],[1998.85,0.06],[1998.97,0.12],[1999.08,0.19],
  [1999.16,0.17],[1999.23,0.18],[1999.31,0.13],[1999.38,0.16],[1999.46,0.18],[1999.53,0.21],[1999.61,0.15],[1999.71,0.09],
  [1999.83,0.04],[1999.94,0.02],[2000.03,-0.005],[2000.09,-0.02],[2000.21,-0.04],[2000.29,-0.01],[2000.39,-0.01],[2000.51,-0.005],
  [2000.59,0.04],[2000.69,0.09],[2000.74,0.04],[2000.84,0.005],[2000.94,-0.02],[2001.04,-0.04],[2001.12,-0.07],[2001.27,-0.10],
  [2001.42,-0.10],[2001.57,-0.10],[2001.72,-0.10],[2001.87,-0.10],[2002.02,-0.08],[2002.17,-0.05],[2002.25,-0.005],[2002.32,0.005],
  [2002.40,0.12],[2002.47,0.15],[2002.58,0.13],[2002.67,0.21],[2002.74,0.20],[2002.81,0.13],[2002.88,0.10],[2003.00,0.06],
  [2003.11,0.04],[2003.23,0.03],[2003.38,0.02],[2003.53,0.005],[2003.61,-0.01],[2003.68,-0.04],[2003.79,-0.05],[2003.91,-0.02],
  [2003.98,-0.005],[2004.08,0.01],[2004.19,0.02],[2004.27,0.08],[2004.38,0.04],[2004.49,0.03],[2004.64,0.03],[2004.72,0.02],
  [2004.83,0.05],[2004.94,0.03],[2005.02,0.06],[2005.14,0.11],[2005.25,0.07],[2005.35,0.15],[2005.47,0.14],[2005.57,0.10],
  [2005.66,0.02],[2005.72,-0.005],[2005.77,-0.06],[2005.92,-0.06],[2006.07,-0.05],[2006.22,-0.04],[2006.34,-0.02],[2006.45,-0.005],
  [2006.52,0.02],[2006.60,0.005],[2006.67,0.09],[2006.72,0.005],[2006.82,-0.02],[2006.90,-0.04],[2007.00,-0.01],[2007.09,0.05],
  [2007.20,0.09],[2007.30,0.10],[2007.42,0.07],[2007.55,0.04],[2007.65,0.005],[2007.73,-0.02],[2007.91,-0.04],[2008.03,-0.02],
  [2008.18,-0.02],[2008.25,0.01],[2008.40,0.04],[2008.55,0.05],[2008.66,0.02],[2008.75,-0.01],[2008.86,-0.03],[2009.08,-0.03],
  [2009.31,-0.02],[2009.53,-0.02],[2009.68,-0.01],[2009.76,-0.03],[2009.91,-0.03],[2010.06,-0.01],[2010.14,0.01],[2010.21,-0.01],
  [2010.29,-0.03],[2010.41,-0.06],[2010.51,-0.05],[2010.59,-0.005],[2010.66,0.005],[2010.74,0.32],[2010.81,0.30],[2010.89,0.28],
  [2010.99,0.24],[2011.11,0.19],[2011.23,0.18],[2011.34,0.17],[2011.45,0.16],[2011.54,0.16],[2011.61,0.12],[2011.67,0.03],
  [2011.72,-0.005],[2011.79,-0.03],[2011.87,-0.05],[2012.02,-0.05],[2012.17,-0.06],[2012.32,-0.06],[2012.47,-0.05],[2012.62,-0.06],
  [2012.77,-0.06],[2012.92,-0.07],[2013.00,-0.08],[2013.07,-0.04],[2013.18,-0.03],[2013.30,-0.03],[2013.37,-0.07],[2013.48,-0.07],
  [2013.60,-0.04],[2013.72,-0.05],[2013.83,-0.04],[2013.98,-0.06],[2014.08,-0.04],[2014.20,-0.02],[2014.28,-0.005],[2014.35,0.12],
  [2014.46,0.18],[2014.58,0.20],[2014.68,0.16],[2014.80,0.14],[2014.91,0.14],[2014.99,0.09],[2015.06,0.05],[2015.11,-0.005],
  [2015.18,-0.02],[2015.29,-0.02],[2015.41,-0.01],[2015.53,-0.02],[2015.63,-0.01],[2015.74,-0.03],[2015.81,-0.005],[2015.90,0.06],
  [2015.98,0.15],[2016.05,0.06],[2016.16,0.05],[2016.28,0.05],[2016.36,0.02],[2016.43,-0.005],[2016.46,-0.05],[2016.54,-0.20],
  [2016.61,-0.22],[2016.69,-0.14],[2016.76,-0.05],[2016.88,-0.01],[2016.99,-0.03],[2017.09,-0.05],[2017.21,-0.03],[2017.33,-0.05],
  [2017.47,-0.03],[2017.56,-0.01],[2017.67,-0.09],[2017.79,-0.10],[2017.89,-0.09],[2017.99,-0.12],[2018.13,-0.14],[2018.27,-0.15],
  [2018.39,-0.12],[2018.49,-0.11],[2018.64,-0.09],[2018.80,-0.06],[2018.92,-0.05],[2019.02,-0.07],[2019.14,-0.12],[2019.25,-0.14],
  [2019.35,-0.13],[2019.47,-0.09],[2019.59,-0.10],[2019.70,-0.11],[2019.80,-0.15],[2019.92,-0.17],[2020.00,-0.19],[2020.11,-0.17],
  [2020.20,-0.15],[2020.30,-0.19],[2020.42,-0.23],[2020.53,-0.28],[2020.63,-0.35],[2020.72,-0.37],[2020.83,-0.33],[2020.93,-0.28],
  [2021.05,-0.24],[2021.20,-0.19],[2021.32,-0.17],[2021.43,-0.20],[2021.55,-0.20],[2021.66,-0.19],[2021.76,-0.16],[2021.85,-0.15],
  [2021.96,-0.19],[2022.06,-0.21],[2022.18,-0.22],[2022.30,-0.24],[2022.44,-0.23],[2022.56,-0.21],[2022.67,-0.19],[2022.74,-0.04],
  [2022.82,-0.08],[2022.91,-0.09],[2023.01,-0.09],[2023.12,-0.12],[2023.21,-0.14],[2023.31,-0.11],[2023.42,-0.09],[2023.54,-0.06],
  [2023.64,-0.02],[2023.72,-0.05],[2023.81,-0.02],[2023.92,-0.01],[2024.02,-0.02],[2024.11,-0.07],[2024.22,-0.08],[2024.32,-0.09],
  [2024.44,-0.12],[2024.52,-0.16],[2024.59,-0.26],[2024.70,-0.30],[2024.82,-0.32],[2024.93,-0.32]
];

const yearTicks = [1960, 1970, 1980, 1990, 2000, 2010, 2020];
const indexTicks = [-3, -2, -1, 0, 1, 2, 3];
const diffTicks = [-2.0, -1.5, -1.0, -0.5, 0.0, 0.5, 1.0, 1.5, 2.0];
const legendLabels = ['SPEI > SPI', 'SPEI < SPI'];

// --- LAYOUT ---
const plotLeft = 111, plotRight = 2077;
const xDomain = [1955.594, 2028.237];

const panels = [
    { top: 54, bottom: 549, title: 'SPI-12 Time Series', ylabel: 'SPI-12', labelX: 58,
      data: spiData, yDomain: [-3.5, 3.5], ticks: indexTicks, fmt: d3.format('d'),
      pos: 'blue', neg: 'red', threshold: -1 },
    { top: 637, bottom: 1133, title: 'SPEI-12 Time Series', ylabel: 'SPEI-12', labelX: 58,
      data: speiData, yDomain: [-3.5, 3.5], ticks: indexTicks, fmt: d3.format('d'),
      pos: 'blue', neg: 'red', threshold: -1 },
    { top: 1220, bottom: 1714, title: 'Difference (SPEI - SPI)', ylabel: 'SPEI - SPI', labelX: 38,
      data: diffData, yDomain: [-2, 2], ticks: diffTicks, fmt: d3.format('.1f'),
      pos: 'green', neg: 'purple', legend: true }
];

const svg = d3.select('#chart');
const x = d3.scaleLinear().domain(xDomain).range([plotLeft, plotRight]);

// contiguous runs of same sign, like fill_between(where=...)
function signRuns(data, positive) {
    const runs = [];
    let cur = null;
    data.forEach(d => {
        const ok = positive ? d[1] >= 0 : d[1] < 0;
        if (ok) {
            if (!cur) { cur = []; runs.push(cur); }
            cur.push(d);
        } else {
            cur = null;
        }
    });
    return runs;
}

panels.forEach(p => {
    const y = d3.scaleLinear().domain(p.yDomain).range([p.bottom, p.top]);
    const g = svg.append('g');

    const area = d3.area()
        .x(d => x(d[0]))
        .y0(y(0))
        .y1(d => y(d[1]));

    // fills
    [[true, p.pos], [false, p.neg]].forEach(([positive, color]) => {
        g.append('g').selectAll('path')
            .data(signRuns(p.data, positive))
            .join('path')
            .attr('d', area)
            .attr('fill', color)
            .attr('fill-opacity', 0.5)
            .attr('stroke', color)
            .attr('stroke-opacity', 0.5)
            .attr('stroke-width', 1.6)
            .attr('stroke-linejoin', 'round');
    });

    // grid (drawn above the fills, as matplotlib does)
    g.append('g')
        .attr('transform', `translate(0,${p.bottom})`)
        .call(d3.axisBottom(x).tickValues(yearTicks).tickSize(-(p.bottom - p.top)).tickFormat(''))
        .call(a => a.select('.domain').remove())
        .selectAll('line').attr('stroke', '#b0b0b0').attr('stroke-opacity', 0.3).attr('stroke-width', 1.6);
    g.append('g')
        .attr('transform', `translate(${plotLeft},0)`)
        .call(d3.axisLeft(y).tickValues(p.ticks).tickSize(-(plotRight - plotLeft)).tickFormat(''))
        .call(a => a.select('.domain').remove())
        .selectAll('line').attr('stroke', '#b0b0b0').attr('stroke-opacity', 0.3).attr('stroke-width', 1.6);

    // zero and threshold lines
    if (p.pos === 'blue') {
        g.append('line')
            .attr('x1', x(p.data[0][0])).attr('x2', x(p.data[p.data.length - 1][0]))
            .attr('y1', y(0) - 1).attr('y2', y(0) - 1)
            .attr('stroke', 'red').attr('stroke-opacity', 0.3).attr('stroke-width', 1.6);
    }
    g.append('line')
        .attr('x1', plotLeft).attr('x2', plotRight)
        .attr('y1', y(0)).attr('y2', y(0))
        .attr('stroke', '#000').attr('stroke-width', 1.3);
    if (p.threshold !== undefined) {
        g.append('line')
            .attr('x1', plotLeft).attr('x2', plotRight)
            .attr('y1', y(p.threshold)).attr('y2', y(p.threshold))
            .attr('stroke', 'orange').attr('stroke-opacity', 1)
            .attr('stroke-width', 1.5).attr('stroke-dasharray', '5.5,2.4');
    }

    // axes
    const xAxis = g.append('g')
        .attr('transform', `translate(0,${p.bottom})`)
        .call(d3.axisBottom(x).tickValues(yearTicks).tickFormat(d3.format('d'))
            .tickSize(7).tickPadding(9.5).tickSizeOuter(0));
    const yAxis = g.append('g')
        .attr('transform', `translate(${plotLeft},0)`)
        .call(d3.axisLeft(y).tickValues(p.ticks).tickFormat(p.fmt)
            .tickSize(7).tickPadding(8).tickSizeOuter(0));
    [xAxis, yAxis].forEach(a => {
        a.select('.domain').remove();
        a.selectAll('line').attr('stroke', '#000').attr('stroke-width', 1.6);
        a.selectAll('text').attr('fill', '#000').style('font-size', '18px')
            .style('font-family', '"DejaVu Sans", sans-serif');
    });

    // spines
    g.append('rect')
        .attr('x', plotLeft).attr('y', p.top)
        .attr('width', plotRight - plotLeft).attr('height', p.bottom - p.top)
        .attr('fill', 'none').attr('stroke', '#000').attr('stroke-width', 1.6);

    // title and y label
    g.append('text')
        .attr('x', (plotLeft + plotRight) / 2).attr('y', p.top - 13)
        .attr('text-anchor', 'middle').style('font-size', '25px')
        .text(p.title);
    g.append('text')
        .attr('transform', `translate(${p.labelX},${(p.top + p.bottom) / 2}) rotate(-90)`)
        .attr('text-anchor', 'middle').style('font-size', '20.8px')
        .text(p.ylabel);

    // legend
    if (p.legend) {
        const lg = g.append('g').attr('transform', `translate(1904,1229)`);
        lg.append('rect')
            .attr('width', 163).attr('height', 63).attr('rx', 4)
            .attr('fill', '#fff').attr('fill-opacity', 0.8)
            .attr('stroke', '#cccccc').attr('stroke-width', 1.5);
        [p.pos, p.neg].forEach((c, i) => {
            lg.append('rect')
                .attr('x', 6).attr('y', 10 + i * 28)
                .attr('width', 39).attr('height', 13)
                .attr('fill', c).attr('fill-opacity', 0.5)
                .attr('stroke', c).attr('stroke-opacity', 0.5).attr('stroke-width', 1.6);
            lg.append('text')
                .attr('x', 61).attr('y', 23 + i * 28)
                .style('font-size', '18px')
                .text(legendLabels[i]);
        });
    }
});

// x label
svg.append('text')
    .attr('x', (plotLeft + plotRight) / 2).attr('y', 1772)
    .attr('text-anchor', 'middle').style('font-size', '20.8px')
    .text('Time');
</script>
</body>
</html>
